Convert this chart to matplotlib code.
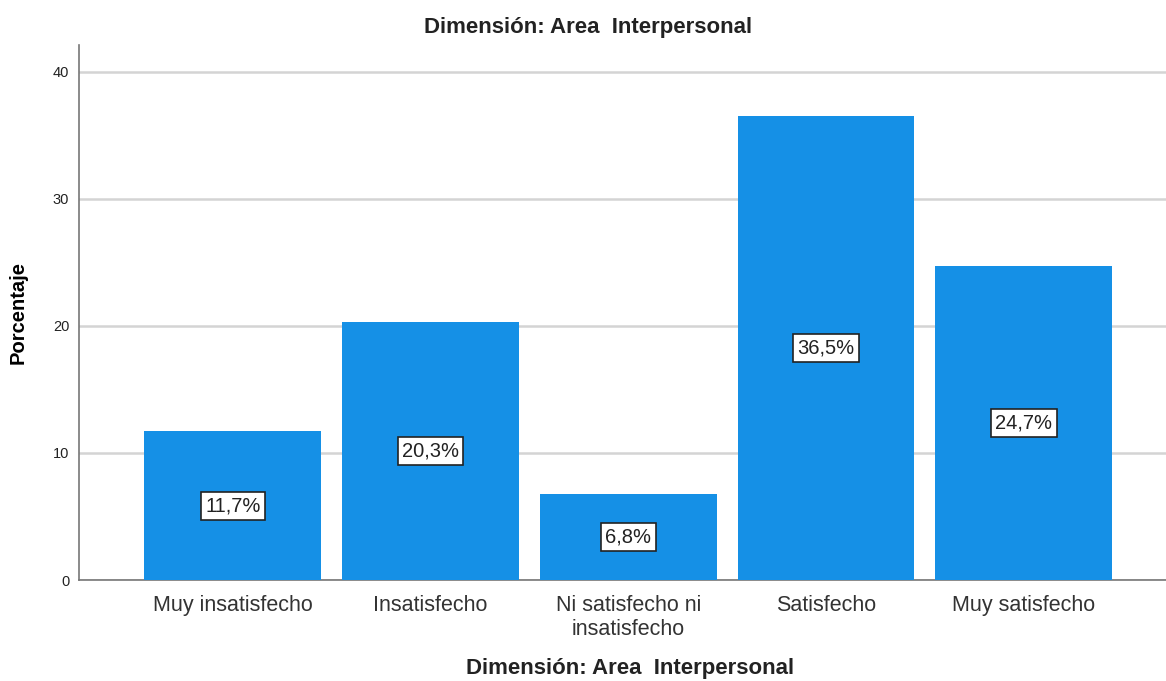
import numpy as np
import matplotlib.pyplot as plt

# data
categorias = ["Muy insatisfecho", "Insatisfecho", "Ni satisfecho ni\ninsatisfecho",
              "Satisfecho", "Muy satisfecho"]
porcentajes = [11.7, 20.3, 6.8, 36.5, 24.7]
etiquetas = ["11,7%", "20,3%", "6,8%", "36,5%", "24,7%"]
yticks = [0, 10, 20, 30, 40]

plt.rcParams['font.family'] = ['Liberation Sans', 'DejaVu Sans']

fig = plt.figure(figsize=(11.66, 6.81), dpi=100)
ax = fig.add_axes([0.0678, 0.1483, 0.9322, 0.7857])

x = np.arange(len(categorias))
ax.bar(x, porcentajes, width=0.894, color='#1590e6', zorder=3)

for xi, v, t in zip(x, porcentajes, etiquetas):
    ax.text(xi, v / 2, t, ha='center', va='center', fontsize=14.5, color='#222222', zorder=4,
            bbox=dict(boxstyle='square,pad=0.22', facecolor='white', edgecolor='#222222', linewidth=1.2))

ax.set_xlim(-0.778, 4.72)
ax.set_ylim(0, 42.1)
ax.set_yticks(yticks)
ax.set_xticks(x)
ax.set_xticklabels(categorias, fontsize=15.5, color='#333333', linespacing=1.2)
ax.tick_params(axis='x', length=0, pad=11)
ax.tick_params(axis='y', length=0, labelsize=10.5, pad=7, labelcolor='#222222')

ax.grid(axis='y', color='#d4d4d4', linewidth=1.8, zorder=0)
for s in ['top', 'right']:
    ax.spines[s].set_visible(False)
for s in ['left', 'bottom']:
    ax.spines[s].set_color('#777777')
    ax.spines[s].set_linewidth(1.2)

ax.set_ylabel("Porcentaje", fontsize=14.5, fontweight='bold')
ax.yaxis.set_label_coords(-0.047, 0.5)
fig.text(0.504, 0.96, "Dimensión: Area  Interpersonal", ha='center', va='center',
         fontsize=16, fontweight='bold', color='#222222')
fig.text(0.540, 0.018, "Dimensión: Area  Interpersonal", ha='center', va='center',
         fontsize=16, fontweight='bold', color='#222222')

plt.savefig('out.png', dpi=100)
